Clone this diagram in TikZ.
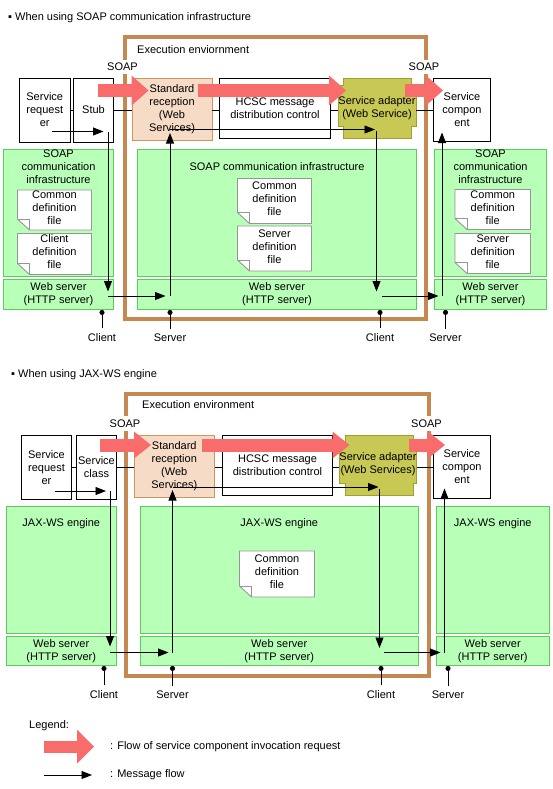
\documentclass[tikz,border=0pt]{standalone}
\usepackage{fontspec}
\setmainfont{Liberation Sans}
\usetikzlibrary{arrows.meta}

\definecolor{flowpink}{RGB}{248,108,108}
\definecolor{envbrown}{RGB}{196,136,80}
\definecolor{stdfill}{RGB}{246,220,198}
\definecolor{stdline}{RGB}{208,148,96}
\definecolor{adpfill}{RGB}{200,200,84}
\definecolor{adpline}{RGB}{160,160,48}
\definecolor{inffill}{RGB}{184,255,184}
\definecolor{infline}{RGB}{90,205,90}
\definecolor{docgrey}{RGB}{150,150,150}

\tikzset{
  box/.style={draw, fill=white, line width=0.9pt, inner sep=0pt, align=center},
  stdbox/.style={box, draw=stdline, fill=stdfill},
  adpshape/.style={draw=adpline, fill=adpfill, line width=0.9pt},
  infbox/.style={draw=infline, fill=inffill, line width=0.9pt, inner sep=0pt, align=center},
  inftitle/.style={anchor=north, inner sep=0pt, align=center},
  docshape/.style={draw=docgrey, fill=white, line width=0.9pt},
  envframe/.style={draw=envbrown, line width=4pt, outer sep=0pt, inner sep=0pt},
  soaplbl/.style={fill=white},
  linkline/.style={line width=0.9pt},
  flow/.style={flowpink, line width=13pt, -{Triangle[length=17pt, width=30pt, line width=0pt]}},
  msg/.style={line width=0.9pt, -{Triangle[length=10.5pt, width=8pt]}},
  portline/.style={line width=0.9pt, shorten <=2pt, -{Circle[length=5pt]}},
}

\begin{document}
\begin{tikzpicture}[x=1pt, y=-1pt, font=\fontsize{11}{13}\selectfont]
\useasboundingbox (0,0) rectangle (552,789);

%% upper diagram: SOAP communication infrastructure
\node[anchor=west, inner sep=0pt] (ttl1) at (8,18) {▪ When using SOAP communication infrastructure};
\node[envframe, minimum width=301pt, minimum height=281.5pt] (env1) at (275,177.75) {};
\node[anchor=west, inner sep=0pt] (envtxt1) at ([xshift=12.5pt, yshift=-13pt]env1.north west) {Execution enviornment};
\node[soaplbl] (soapL1) at (122.5,67) {SOAP};
\node[soaplbl] (soapR1) at (424,67) {SOAP};

\node[infbox, minimum width=110pt, minimum height=126.5pt, label={[inftitle, yshift=-1pt]north:SOAP\\communication\\infrastructure}] (infL1) at (58.5,212.75) {};
\node[infbox, minimum width=279pt, minimum height=127pt, label={[inftitle, yshift=-13pt]north:SOAP communication infrastructure}] (infM1) at (277,213) {};
\node[infbox, minimum width=112pt, minimum height=126.5pt, label={[inftitle, yshift=-1pt]north:SOAP\\communication\\infrastructure}] (infR1) at (490.5,212.75) {};
\node[infbox, minimum width=110pt, minimum height=30pt] (webL1) at (58.5,294.5) {Web server\\(HTTP server)};
\node[infbox, minimum width=279pt, minimum height=30pt] (webM1) at (277,294.5) {Web server\\(HTTP server)};
\node[infbox, minimum width=112pt, minimum height=30pt] (webR1) at (490.5,294.5) {Web server\\(HTTP server)};

% definition files
\foreach \nm/\px/\py/\pw/\ph/\txt in {
    cmnL1/54.5/210/74/40/{Common\\definition\\file},
    cliL1/54.5/254/74/41/{Client\\definition\\file},
    cmnM1/274.5/201/74/45/{Common\\definition\\file},
    srvM1/274.5/248.5/74/45/{Server\\definition\\file},
    cmnR1/492.75/209.5/75.5/40/{Common\\definition\\file},
    srvR1/492.75/253.5/75.5/40/{Server\\definition\\file}} {
  \filldraw[docshape] (\px-\pw/2,\py-\ph/2) -| (\px+\pw/2,\py+\ph/2) -- (\px-\pw/2+12,\py+\ph/2) -- (\px-\pw/2,\py+\ph/2-11) -- cycle;
  \draw[docshape, fill=none] (\px-\pw/2,\py+\ph/2-11) -| (\px-\pw/2+12,\py+\ph/2);
  \node[align=center, inner sep=0pt] (\nm) at (\px,\py-2) {\txt};
}

\node[box, minimum width=50.5pt, minimum height=64pt] (req1) at (44.75,110) {Service\\request\\er};
\node[box, minimum width=40pt, minimum height=64pt] (stub1) at (93.5,110) {Stub};
\node[stdbox, minimum width=80pt, minimum height=61.5pt] (std1) at (172,109.25) {Standard\\reception\\(Web\\Services)};
\node[box, minimum width=111pt, minimum height=60pt] (hcsc1) at (275,108.5) {HCSC message\\distribution control};
\filldraw[adpshape] (343,78.5) -- (411,78.5) -- (411,85.5) -- (416,85.5) -- (416,126.5) -- (411,126.5) -- (411,138.5)
  -- (343,138.5) -- (343,126.5) -- (338,126.5) -- (338,85.5) -- (343,85.5) -- cycle;
\node[inner sep=0pt, align=center, minimum width=78pt, minimum height=60pt] (adp1) at (377,108) {Service adapter\\(Web Service)};
\node[box, minimum width=57pt, minimum height=63pt] (comp1) at (462,110) {Service\\compon\\ent};

\coordinate (row1) at (0,110);
\draw[linkline] (req1.east) -- (stub1.west);
\draw[linkline] (stub1.east) -- (std1.west |- row1);
\draw[linkline] (std1.east |- row1) -- (hcsc1.west |- row1);
\draw[linkline] (hcsc1.east |- row1) -- (adp1.west |- row1);
\draw[linkline] (adp1.east |- row1) -- (comp1.west |- row1);

% invocation flow
\coordinate (pk1a) at (98,90.5);   \coordinate (pk1b) at (148.5,90.5);
\coordinate (pk2a) at (198,90.5);  \coordinate (pk2b) at (346,90.5);
\coordinate (pk3a) at (405,90.5);  \coordinate (pk3b) at (443,90.5);
\draw[flow] (pk1a) -- (pk1b);
\draw[flow] (pk2a) -- (pk2b);
\draw[flow] (pk3a) -- (pk3b);

% message flow
\coordinate (ms1a) at (51.5,131.5);  \coordinate (ms1b) at (103.5,131.5);
\coordinate (ms2a) at (108,131.5);   \coordinate (ms2b) at (108,291.5);
\coordinate (ms3a) at (108,296);     \coordinate (ms3b) at (165.5,296);
\coordinate (ms4a) at (170,296);     \coordinate (ms4b) at (170,133);
\coordinate (ms5a) at (170,129.5);   \coordinate (ms5b) at (375,129.5);
\coordinate (ms6a) at (376.5,131);   \coordinate (ms6b) at (376.5,291.5);
\coordinate (ms7a) at (381.5,296);   \coordinate (ms7b) at (438.5,296);
\coordinate (ms8a) at (442,296);     \coordinate (ms8b) at (442,132.5);
\draw[msg] (ms1a) -- (ms1b);
\draw[msg] (ms2a) -- (ms2b);
\draw[msg] (ms3a) -- (ms3b);
\draw[msg] (ms4a) -- (ms4b);
\draw[msg] (ms5a) -- (ms5b);
\draw[msg] (ms6a) -- (ms6b);
\draw[msg] (ms7a) -- (ms7b);
\draw[msg] (ms8a) -- (ms8b);

\node (cliA) at (102,338) {Client};
\node (srvA) at (170,338) {Server};
\node (cliB) at (380,338) {Client};
\node (srvB) at (445.5,338) {Server};
\draw[portline] (cliA.north) -- (cliA.north |- webL1.south);
\draw[portline] (srvA.north) -- (srvA.north |- webM1.south);
\draw[portline] (cliB.north) -- (cliB.north |- webM1.south);
\draw[portline] (srvB.north) -- (srvB.north |- webR1.south);

%% lower diagram: JAX-WS engine
\node[anchor=west, inner sep=0pt] (ttl2) at (11,375) {▪ When using JAX-WS engine};
\node[envframe, minimum width=302.5pt, minimum height=282pt] (env2) at (277.25,534.5) {};
\node[anchor=west, inner sep=0pt] (envtxt2) at ([xshift=16pt, yshift=-11.5pt]env2.north west) {Execution environment};
\node[soaplbl] (soapL2) at (125,423.3) {SOAP};
\node[soaplbl] (soapR2) at (426.5,423.3) {SOAP};

\node[infbox, minimum width=110.5pt, minimum height=127.5pt, label={[inftitle, yshift=-13pt]north:JAX-WS engine}] (jaxL2) at (61.25,569.75) {};
\node[infbox, minimum width=278.5pt, minimum height=127.5pt, label={[inftitle, yshift=-13pt]north:JAX-WS engine}] (jaxM2) at (279.25,569.75) {};
\node[infbox, minimum width=113.5pt, minimum height=127.5pt, label={[inftitle, yshift=-13pt]north:JAX-WS engine}] (jaxR2) at (492.75,569.75) {};
\node[infbox, minimum width=110.5pt, minimum height=29.5pt] (webL2) at (61.25,650.75) {Web server\\(HTTP server)};
\node[infbox, minimum width=278.5pt, minimum height=29.5pt] (webM2) at (279.25,650.75) {Web server\\(HTTP server)};
\node[infbox, minimum width=113.5pt, minimum height=29.5pt] (webR2) at (492.75,650.75) {Web server\\(HTTP server)};

\filldraw[docshape] (239.5,551) -| (314.5,597) -- (251.5,597) -- (239.5,586) -- cycle;
\draw[docshape, fill=none] (239.5,586) -| (251.5,597);
\node[align=center, inner sep=0pt] (cmnM2) at (277,572) {Common\\definition\\file};

\node[box, minimum width=50pt, minimum height=64pt] (req2) at (46.5,467.5) {Service\\request\\er};
\node[box, minimum width=40pt, minimum height=64pt] (cls2) at (96.5,467.5) {Service\\class};
\node[stdbox, minimum width=80.5pt, minimum height=62pt] (std2) at (174.25,466.5) {Standard\\reception\\(Web\\Services)};
\node[box, minimum width=110pt, minimum height=60pt] (hcsc2) at (277.5,465) {HCSC message\\distribution control};
\filldraw[adpshape] (345,435.5) -- (413,435.5) -- (413,443) -- (416.5,443) -- (416.5,483.5) -- (413,483.5) -- (413,495)
  -- (345,495) -- (345,483.5) -- (339.5,483.5) -- (339.5,443) -- (345,443) -- cycle;
\node[inner sep=0pt, align=center, minimum width=77pt, minimum height=59.5pt] (adp2) at (378,464.5) {Service adapter\\(Web Services)};
\node[box, minimum width=57pt, minimum height=63pt] (comp2) at (462,467) {Service\\compon\\ent};

\coordinate (row2) at (0,467);
\draw[linkline] (req2.east |- row2) -- (cls2.west |- row2);
\draw[linkline] (cls2.east |- row2) -- (std2.west |- row2);
\draw[linkline] (std2.east |- row2) -- (hcsc2.west |- row2);
\draw[linkline] (hcsc2.east |- row2) -- (adp2.west |- row2);
\draw[linkline] (adp2.east |- row2) -- (comp2.west |- row2);

% invocation flow
\coordinate (pk4a) at (100,445);   \coordinate (pk4b) at (151,445);
\coordinate (pk5a) at (201.5,445); \coordinate (pk5b) at (349.5,445);
\coordinate (pk6a) at (408.5,445); \coordinate (pk6b) at (445,445);
\draw[flow, -{Triangle[length=17pt, width=27pt, line width=0pt]}] (pk4a) -- (pk4b);
\draw[flow, -{Triangle[length=17pt, width=27pt, line width=0pt]}] (pk5a) -- (pk5b);
\draw[flow, -{Triangle[length=17pt, width=27pt, line width=0pt]}] (pk6a) -- (pk6b);

% message flow
\coordinate (mt1a) at (54.5,491);    \coordinate (mt1b) at (106,491);
\coordinate (mt2a) at (110,491);     \coordinate (mt2b) at (110,646.5);
\coordinate (mt3a) at (110,652.5);   \coordinate (mt3b) at (168.5,652.5);
\coordinate (mt4a) at (172.5,652.5); \coordinate (mt4b) at (172.5,490);
\coordinate (mt5a) at (172.5,487);   \coordinate (mt5b) at (378.5,487);
\coordinate (mt6a) at (379.5,489);   \coordinate (mt6b) at (379.5,648);
\coordinate (mt7a) at (383.5,652.5); \coordinate (mt7b) at (440.5,652.5);
\coordinate (mt8a) at (444.5,652.5); \coordinate (mt8b) at (444.5,488.5);
\draw[msg] (mt1a) -- (mt1b);
\draw[msg] (mt2a) -- (mt2b);
\draw[msg] (mt3a) -- (mt3b);
\draw[msg] (mt4a) -- (mt4b);
\draw[msg] (mt5a) -- (mt5b);
\draw[msg] (mt6a) -- (mt6b);
\draw[msg] (mt7a) -- (mt7b);
\draw[msg] (mt8a) -- (mt8b);

\node (cliC) at (104,695) {Client};
\node (srvC) at (172.5,695) {Server};
\node (cliD) at (381,695) {Client};
\node (srvD) at (448,695) {Server};
\draw[portline] (cliC.north) -- (cliC.north |- webL2.south);
\draw[portline] (srvC.north) -- (srvC.north |- webM2.south);
\draw[portline] (cliD.north) -- (cliD.north |- webM2.south);
\draw[portline] (srvD.north) -- (srvD.north |- webR2.south);

%% legend
\node[anchor=west, inner sep=0pt] (lgd) at (29,726) {Legend:};
\coordinate (lgfa) at (43.5,746.5); \coordinate (lgfb) at (94,746.5);
\draw[flow, line width=12pt, -{Triangle[length=17pt, width=34pt, line width=0pt]}] (lgfa) -- (lgfb);
\node[anchor=west, inner sep=0pt] (lgftxt) at (110,746.5) {: Flow of service component invocation request};
\coordinate (lgma) at (43.5,775); \coordinate (lgmb) at (92,775);
\draw[msg] (lgma) -- (lgmb);
\node[anchor=west, inner sep=0pt] (lgmtxt) at (110,775) {: Message flow};
\end{tikzpicture}
\end{document}
